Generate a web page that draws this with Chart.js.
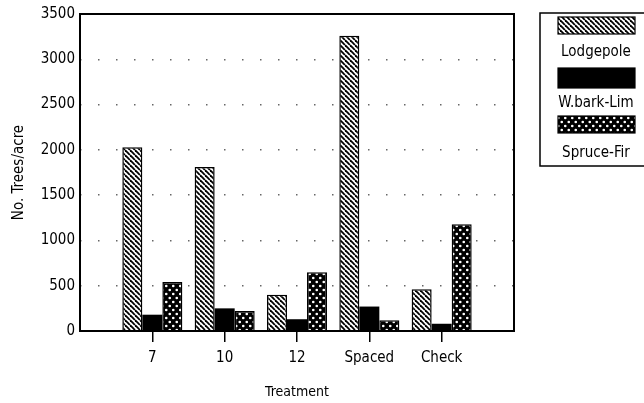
<!DOCTYPE html>
<html>
<head>
<meta charset="utf-8">
<script src="https://cdn.jsdelivr.net/npm/chart.js@4/dist/chart.umd.min.js"></script>
<style>
  html, body { margin: 0; padding: 0; background: #fff; }
  #wrap { width: 644px; height: 403px; }
</style>
</head>
<body>
<div id="wrap"><canvas id="myChart" width="644" height="403"></canvas></div>
<script>
const categories = ['7', '10', '12', 'Spaced', 'Check'];
const lodgepole = [2030, 1810, 400, 3260, 460];
const wbarkLim = [180, 250, 130, 270, 80];
const spruceFir = [540, 220, 650, 120, 1180];
const yTicks = [0, 500, 1000, 1500, 2000, 2500, 3000, 3500];

const FONT = "'DejaVu Sans Condensed', 'Liberation Sans Narrow', sans-serif";

function hatchPattern() {
    const c = document.createElement('canvas');
    c.width = 5; c.height = 5;
    const g = c.getContext('2d');
    g.fillStyle = '#fff';
    g.fillRect(0, 0, 5, 5);
    g.strokeStyle = '#000';
    g.lineWidth = 1.8;
    for (let k = -1; k <= 1; k++) {
        g.beginPath();
        g.moveTo(k * 5, 0);
        g.lineTo(k * 5 + 5, 5);
        g.stroke();
    }
    return g.createPattern(c, 'repeat');
}

function dotPattern() {
    const c = document.createElement('canvas');
    c.width = 7; c.height = 8;
    const g = c.getContext('2d');
    g.fillStyle = '#000';
    g.fillRect(0, 0, 7, 8);
    g.fillStyle = '#fff';
    [[1.75, 2], [5.25, 6]].forEach(p => {
        g.beginPath();
        g.arc(p[0], p[1], 1.3, 0, Math.PI * 2);
        g.fill();
    });
    return g.createPattern(c, 'repeat');
}

const ctx = document.getElementById('myChart').getContext('2d');

const toPoints = arr => arr.map((v, i) => ({ x: i + 1, y: v }));

const boxPlugin = {
    id: 'box',
    afterDraw(chart) {
        const a = chart.chartArea;
        const g = chart.ctx;
        g.save();
        g.strokeStyle = '#000';
        g.lineWidth = 2;
        g.strokeRect(a.left, a.top, a.right - a.left, a.bottom - a.top);

        // legend box on the right
        g.lineWidth = 1.5;
        g.strokeRect(540, 13, 110, 153);
        const swY = [17, 68, 116];
        const labY = [52, 103, 153];
        chart.data.datasets.forEach((ds, i) => {
            const h = i === 1 ? 20 : 17;
            g.fillStyle = ds.backgroundColor;
            g.fillRect(558, swY[i], 77, h);
            g.strokeStyle = '#000';
            g.lineWidth = 1.2;
            g.strokeRect(558, swY[i], 77, h);
            g.fillStyle = '#000';
            g.font = '15px ' + FONT;
            g.textAlign = 'center';
            g.textBaseline = 'middle';
            g.fillText(ds.label, 596, labY[i]);
        });
        g.restore();
    }
};

const chart = new Chart(ctx, {
    type: 'bar',
    data: {
        datasets: [
            { label: 'Lodgepole', data: toPoints(lodgepole), backgroundColor: hatchPattern(), borderColor: '#000', borderWidth: 1.5 },
            { label: 'W.bark-Lim', data: toPoints(wbarkLim), backgroundColor: '#000', borderColor: '#000', borderWidth: 0 },
            { label: 'Spruce-Fir', data: toPoints(spruceFir), backgroundColor: dotPattern(), borderColor: '#000', borderWidth: 1.5 }
        ]
    },
    options: {
        responsive: false,
        animation: false,
        devicePixelRatio: 1,
        layout: { padding: { left: 0, right: 130, top: 13, bottom: 0 } },
        datasets: { bar: { categoryPercentage: 0.83, barPercentage: 1 } },
        plugins: {
            legend: { display: false },
            tooltip: { enabled: false }
        },
        scales: {
            x: {
                type: 'linear',
                min: 0,
                max: 6,
                offset: false,
                afterBuildTicks: s => { s.ticks = categories.map((c, i) => ({ value: i + 1 })); },
                afterFit: s => { s.height = 72; },
                ticks: {
                    callback: v => categories[v - 1] || '',
                    color: '#000',
                    font: { family: FONT, size: 15 },
                    padding: 7,
                    maxRotation: 0
                },
                grid: { offset: false, drawOnChartArea: false, drawTicks: true, tickLength: 11, tickColor: '#000', lineWidth: 1.5 },
                border: { display: false },
                title: { display: true, text: 'Treatment', color: '#000', font: { family: FONT, size: 14 }, padding: { top: 0, bottom: 2 } }
            },
            y: {
                min: 0,
                max: 3500,
                afterBuildTicks: s => { s.ticks = yTicks.map(v => ({ value: v })); },
                afterFit: s => { s.width = 80; },
                ticks: { color: '#000', font: { family: FONT, size: 15 }, padding: 5, callback: v => String(v) },
                grid: { drawTicks: false, color: '#666', lineWidth: 1.5 },
                border: { display: false, dash: [1.5, 16.5] },
                title: { display: true, text: 'No. Trees/acre', color: '#000', font: { family: FONT, size: 15 }, padding: { top: 10, bottom: 0 } }
            }
        }
    },
    plugins: [boxPlugin]
});
</script>
</body>
</html>
